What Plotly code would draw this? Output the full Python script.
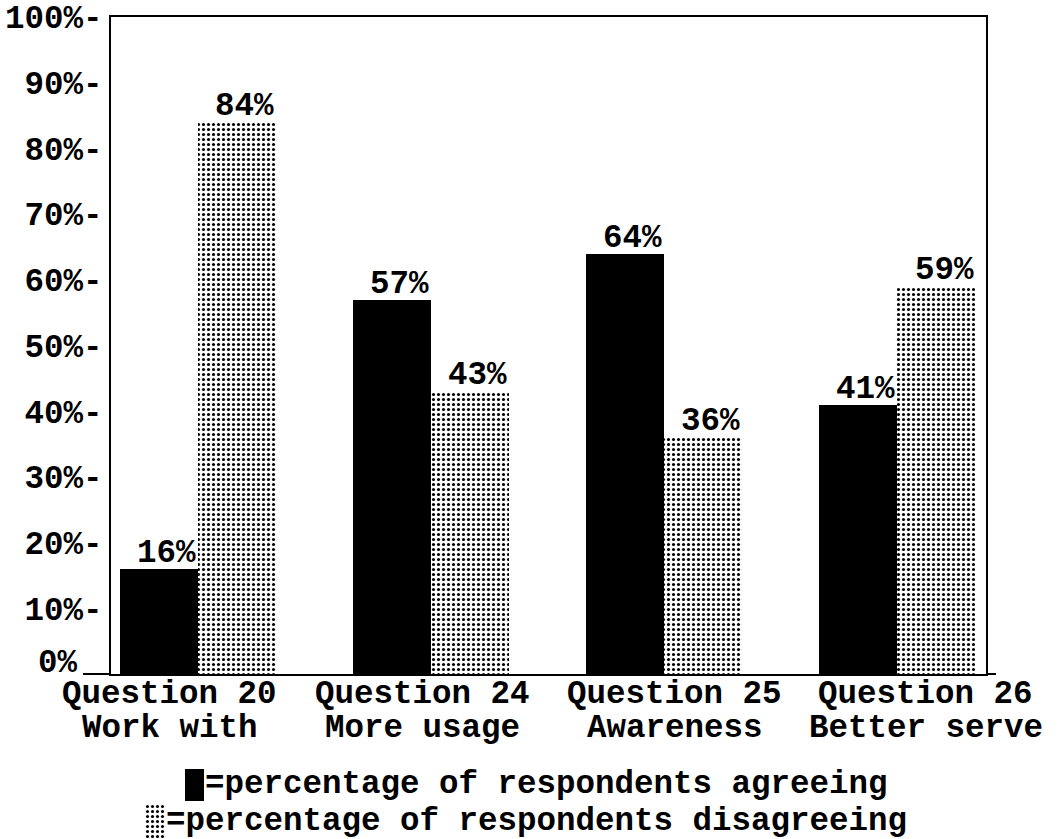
import plotly.graph_objects as go

# Survey results per question
questions = ["Question 20", "Question 24", "Question 25", "Question 26"]
topics = ["Work with", "More usage", "Awareness", "Better serve"]
agree_pct = [16, 57, 64, 41]
disagree_pct = [84, 43, 36, 59]
y_ticks = [10, 20, 30, 40, 50, 60, 70, 80, 90, 100]
zero_label = "0%"
legend_agree = "=percentage of respondents agreeing"
legend_disagree = "=percentage of respondents disagreeing"

W, H = 1058, 839
FONT = "Liberation Mono"
FS = 32.5
BAR_W = 0.335
LABEL_X = [-0.12, 0.965, 2.047, 3.124]   # category label centres (x units)

def px_x(p):
    return p / W

def px_y(p):
    return 1 - p / H

dots = dict(shape=".", fgcolor="black", bgcolor="white", size=5, solidity=0.3,
            fillmode="replace")
txt_font = dict(family=FONT, size=FS, color="black", weight="bold")

xs = list(range(len(questions)))

fig = go.Figure()
fig.add_trace(go.Bar(
    x=xs, y=agree_pct, width=BAR_W, offset=-BAR_W,
    marker=dict(color="black", line=dict(width=0)),
    showlegend=False, hoverinfo="skip",
))
fig.add_trace(go.Bar(
    x=xs, y=disagree_pct, width=BAR_W, offset=0,
    marker=dict(color="white", pattern=dots, line=dict(width=0)),
    showlegend=False, hoverinfo="skip",
))

# swatch for the "disagreeing" key, drawn on its own tiny axes
fig.add_trace(go.Bar(
    x=[0], y=[1], width=1, xaxis="x2", yaxis="y2",
    marker=dict(color="white", pattern=dots, line=dict(width=0)),
    showlegend=False, hoverinfo="skip",
))

annotations = []
# value labels above bars
for i, v in enumerate(agree_pct):
    annotations.append(dict(x=i - BAR_W / 2, y=v, xref="x", yref="y", text=f"{v}%",
                            showarrow=False, yanchor="bottom", xshift=8, yshift=-5,
                            font=txt_font))
for i, v in enumerate(disagree_pct):
    annotations.append(dict(x=i + BAR_W / 2, y=v, xref="x", yref="y", text=f"{v}%",
                            showarrow=False, yanchor="bottom", xshift=8, yshift=-5,
                            font=txt_font))

# zero label sits a little above the baseline, clear of the category labels
annotations.append(dict(x=px_x(80), y=0, xref="paper", yref="y", text=zero_label,
                        showarrow=False, xanchor="right", yanchor="middle", yshift=11,
                        font=txt_font))

# two-line category labels
for lx, q, t in zip(LABEL_X, questions, topics):
    annotations.append(dict(x=lx, y=px_y(694), xref="x", yref="paper", text=q,
                            showarrow=False, yanchor="middle", font=txt_font))
    annotations.append(dict(x=lx, y=px_y(728), xref="x", yref="paper", text=t,
                            showarrow=False, yanchor="middle", font=txt_font))

# key text
annotations.append(dict(x=px_x(203), y=px_y(784), xref="paper", yref="paper",
                        text=legend_agree, showarrow=False, xanchor="left",
                        yanchor="middle", font=txt_font))
annotations.append(dict(x=px_x(164), y=px_y(821), xref="paper", yref="paper",
                        text=legend_disagree, showarrow=False, xanchor="left",
                        yanchor="middle", font=txt_font))

shapes = [
    # black key swatch
    dict(type="rect", xref="paper", yref="paper",
         x0=px_x(185), x1=px_x(204), y0=px_y(801), y1=px_y(769),
         fillcolor="black", line=dict(width=0)),
    # baseline stubs past the frame
    dict(type="line", xref="paper", yref="paper",
         x0=px_x(83), x1=px_x(111), y0=px_y(674), y1=px_y(674),
         line=dict(color="black", width=2)),
    dict(type="line", xref="paper", yref="paper",
         x0=px_x(986), x1=px_x(996), y0=px_y(674), y1=px_y(674),
         line=dict(color="black", width=2)),
]

fig.update_layout(
    width=W, height=H,
    margin=dict(l=0, r=0, t=0, b=0, autoexpand=False),
    paper_bgcolor="white", plot_bgcolor="white",
    barmode="overlay", bargap=0,
    annotations=annotations, shapes=shapes,
    xaxis=dict(
        domain=[px_x(111), px_x(986)], range=[-0.373, 3.382], automargin=False,
        showticklabels=False, ticks="", showgrid=False, zeroline=False,
        showline=True, mirror=True, linecolor="black", linewidth=2,
    ),
    yaxis=dict(
        domain=[px_y(674), px_y(17)], range=[0, 100], automargin=False,
        tickvals=y_ticks,
        ticktext=[f"{t}%-" for t in y_ticks],
        ticks="", showgrid=False, zeroline=False,
        showline=True, mirror=True, linecolor="black", linewidth=2,
        ticklabelstandoff=0, tickfont=txt_font,
    ),
    xaxis2=dict(domain=[px_x(145), px_x(166)], range=[-0.5, 0.5], visible=False,
                anchor="y2", automargin=False),
    yaxis2=dict(domain=[px_y(838), px_y(804)], range=[0, 1], visible=False,
                anchor="x2", automargin=False),
)

fig.write_html("out.html")
